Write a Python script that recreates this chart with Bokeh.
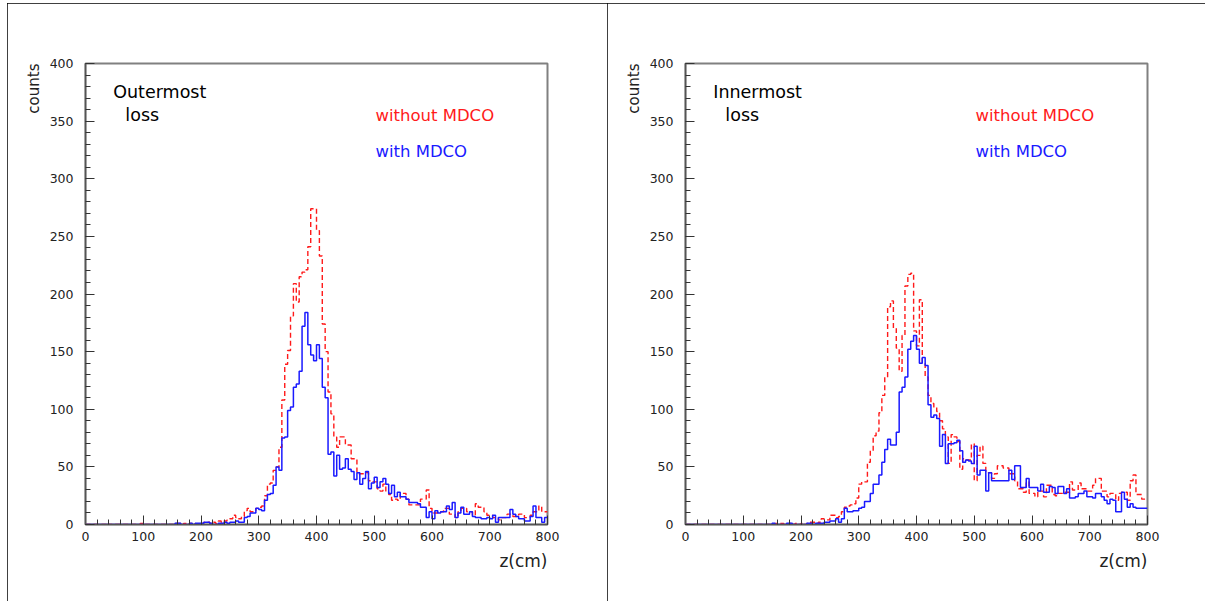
import numpy as np
from bokeh.plotting import figure
from bokeh.layouts import row
from bokeh.models import Range1d, Label, SingleIntervalTicker, Title
from bokeh.embed import file_html
from bokeh.resources import INLINE

# ---------------- data (5 cm bins, 0..800 cm) ----------------
bin_width = 5
n_bins = 160

# Outermost loss, with MDCO (blue)
outer_with = [0]*30 + [
    0, 1, 1, 0, 0, 0, 1, 0, 1, 1,            # 150-195
    1, 2, 2, 1, 0, 0, 1, 1, 2, 1,            # 200-245
    2, 2, 3, 2, 2, 6, 7, 10, 10, 14,         # 250-295
    13, 12, 21, 26, 27, 34, 50, 47, 75, 76,  # 300-345
    99, 102, 119, 122, 133, 172, 184, 156, 147, 142,  # 350-395
    156, 144, 119, 110, 61, 63, 42, 60, 48, 49,       # 400-445
    57, 48, 46, 39, 45, 35, 40, 46, 31, 36,           # 450-495
    41, 32, 37, 40, 35, 27, 34, 24, 28, 24,           # 500-545
    24, 22, 19, 19, 19, 18, 15, 15, 6, 11,            # 550-595
    5, 12, 10, 11, 11, 16, 13, 19, 6, 10,             # 600-645
    15, 9, 9, 11, 7, 6, 6, 5, 5, 6,                   # 650-695
    5, 8, 2, 6, 6, 6, 6, 13, 9, 7,                    # 700-745
    5, 5, 3, 3, 7, 16, 6, 6, 2, 6,                    # 750-795
]

# Outermost loss, without MDCO (red)
outer_without = [0]*7 + [1] + [0]*11 + [1] + [0]*10 + [
    0, 1, 1, 0, 1, 0, 1, 1, 0, 1,            # 150-195
    1, 2, 2, 1, 2, 1, 3, 2, 3, 4,            # 200-245
    5, 8, 6, 5, 7, 12, 14, 11, 12, 14,       # 250-295
    15, 16, 25, 35, 36, 47, 50, 67, 108, 139,         # 300-345
    151, 181, 209, 193, 215, 219, 221, 241, 274, 274, # 350-395
    255, 233, 174, 150, 115, 96, 76, 67, 76, 76,      # 400-445
    69, 69, 57, 57, 44, 44, 44, 45, 38, 37,           # 450-495
    37, 31, 29, 35, 29, 26, 21, 22, 21, 27,           # 500-545
    27, 22, 17, 17, 17, 17, 22, 22, 30, 14,           # 550-595
    10, 10, 11, 11, 14, 14, 9, 9, 6, 11,              # 600-645
    14, 14, 11, 11, 8, 18, 15, 15, 11, 8,             # 650-695
    8, 6, 6, 4, 6, 6, 9, 9, 7, 7,                     # 700-745
    9, 9, 6, 6, 8, 11, 11, 16, 11, 11,                # 750-795
]

# Innermost loss, with MDCO (blue)
inner_with = [0]*30 + [
    1, 0, 0, 0, 0, 1, 1, 0, 0, 0,            # 150-195
    0, 0, 1, 1, 0, 1, 1, 1, 2, 2,            # 200-245
    3, 3, 5, 2, 5, 14, 11, 11, 12, 12,       # 250-295
    14, 15, 20, 20, 27, 35, 35, 43, 54, 65,           # 300-345
    74, 69, 69, 80, 115, 119, 128, 152, 159, 164,     # 350-395
    152, 140, 145, 138, 104, 93, 95, 92, 68, 78,      # 400-445
    53, 70, 70, 71, 73, 64, 54, 56, 55, 53,           # 450-495
    68, 43, 47, 47, 29, 45, 38, 38, 38, 38,           # 500-545
    38, 38, 47, 39, 51, 51, 32, 32, 40, 32,           # 550-595
    32, 32, 29, 35, 28, 28, 33, 32, 27, 33,           # 600-645
    33, 27, 31, 23, 23, 24, 27, 27, 29, 24,           # 650-695
    24, 23, 27, 27, 24, 21, 18, 22, 21, 11,           # 700-745
    11, 28, 22, 15, 18, 15, 14, 14, 14, 14,           # 750-795
]

# Innermost loss, without MDCO (red)
inner_without = [0]*30 + [
    0, 1, 1, 1, 0, 0, 1, 0, 1, 0,            # 150-195
    1, 0, 1, 2, 2, 1, 2, 5, 4, 4,            # 200-245
    8, 8, 6, 7, 11, 15, 16, 17, 18, 23,      # 250-295
    35, 37, 37, 54, 64, 77, 81, 97, 112, 128,         # 300-345
    189, 194, 170, 153, 133, 164, 207, 217, 218, 168, # 350-395
    155, 195, 140, 128, 112, 105, 102, 98, 90, 83,    # 400-445
    76, 53, 78, 76, 72, 48, 57, 56, 56, 70,           # 450-495
    38, 60, 68, 53, 45, 45, 40, 44, 51, 51,           # 500-545
    49, 49, 44, 44, 38, 31, 31, 28, 37, 27,           # 550-595
    27, 24, 29, 29, 24, 34, 34, 26, 25, 27,           # 600-645
    27, 28, 28, 37, 30, 30, 36, 31, 31, 29,           # 650-695
    29, 34, 40, 40, 29, 29, 24, 27, 27, 21,           # 700-745
    27, 28, 28, 21, 38, 43, 26, 26, 22, 22,           # 750-795
]

panel_titles = [("Outermost", "loss"), ("Innermost", "loss")]
legend_texts = ["without MDCO", "with MDCO"]
x_label = "z(cm)"
y_label = "counts"
x_ticks_interval = 100
y_ticks_interval = 50

edges = np.arange(n_bins + 1) * bin_width
FONT = "DejaVu Sans"


def make_panel(with_vals, without_vals, title, width, left_border, right_border):
    p = figure(width=width, height=598, output_backend="svg", toolbar_location=None,
               x_range=Range1d(0, 800), y_range=Range1d(0, 400),
               min_border_left=left_border, min_border_right=right_border,
               min_border_top=60, min_border_bottom=77,
               background_fill_color="white", border_fill_color="white")
    p.xgrid.visible = False
    p.ygrid.visible = False
    p.outline_line_color = "#808080"
    p.outline_line_width = 2

    p.xaxis.ticker = SingleIntervalTicker(interval=x_ticks_interval, num_minor_ticks=5)
    p.yaxis.ticker = SingleIntervalTicker(interval=y_ticks_interval, num_minor_ticks=5)
    for ax in (p.xaxis, p.yaxis):
        ax.axis_line_color = "#555555"
        ax.axis_line_width = 1.5
        ax.major_tick_line_color = "#333333"
        ax.minor_tick_line_color = "#333333"
        ax.major_tick_in = 9
        ax.major_tick_out = 0
        ax.minor_tick_in = 5
        ax.minor_tick_out = 0
        ax.major_label_text_font = FONT
        ax.major_label_text_font_size = "12.5px"
        ax.major_label_text_color = "#222222"
    p.xaxis.major_label_standoff = 7
    p.yaxis.major_label_standoff = 12

    yw = list(without_vals) + [without_vals[-1]]
    yb = list(with_vals) + [with_vals[-1]]
    p.step(x=edges, y=yw, mode="after", line_color="#ff1a1a", line_dash="5 3", line_width=1.4)
    p.step(x=edges, y=yb, mode="after", line_color="#1a1aff", line_width=1.5)

    def lab(x, y, text, color="black", size="17px"):
        p.add_layout(Label(x=x, y=y, text=text, text_color=color, text_font=FONT,
                           text_font_size=size, text_align="left", text_baseline="middle"))

    lab(48, 375, title[0], size="17.5px")
    lab(69, 355, title[1], size="17.5px")
    lab(502, 355, legend_texts[0], color="#ff1a1a", size="16.5px")
    lab(502, 324, legend_texts[1], color="#1a1aff", size="16.5px")

    p.add_layout(Title(text=x_label, align="right", text_font=FONT, text_font_size="17px",
                       text_font_style="normal", text_color="#222222", standoff=10), "below")
    p.add_layout(Title(text=y_label, align="right", text_font=FONT, text_font_size="15px",
                       text_font_style="normal", text_color="#222222", standoff=8), "left")

    p.styles = {"outline": "1px solid black", "outline-offset": "-1px"}
    return p


p1 = make_panel(outer_with, outer_without, panel_titles[0], 600, 78, 60)
p2 = make_panel(inner_with, inner_without, panel_titles[1], 598, 78, 58)
layout = row(p1, p2)
layout.styles = {"margin-left": "7px", "margin-top": "3px"}

open("out.html", "w").write(file_html(layout, INLINE))
